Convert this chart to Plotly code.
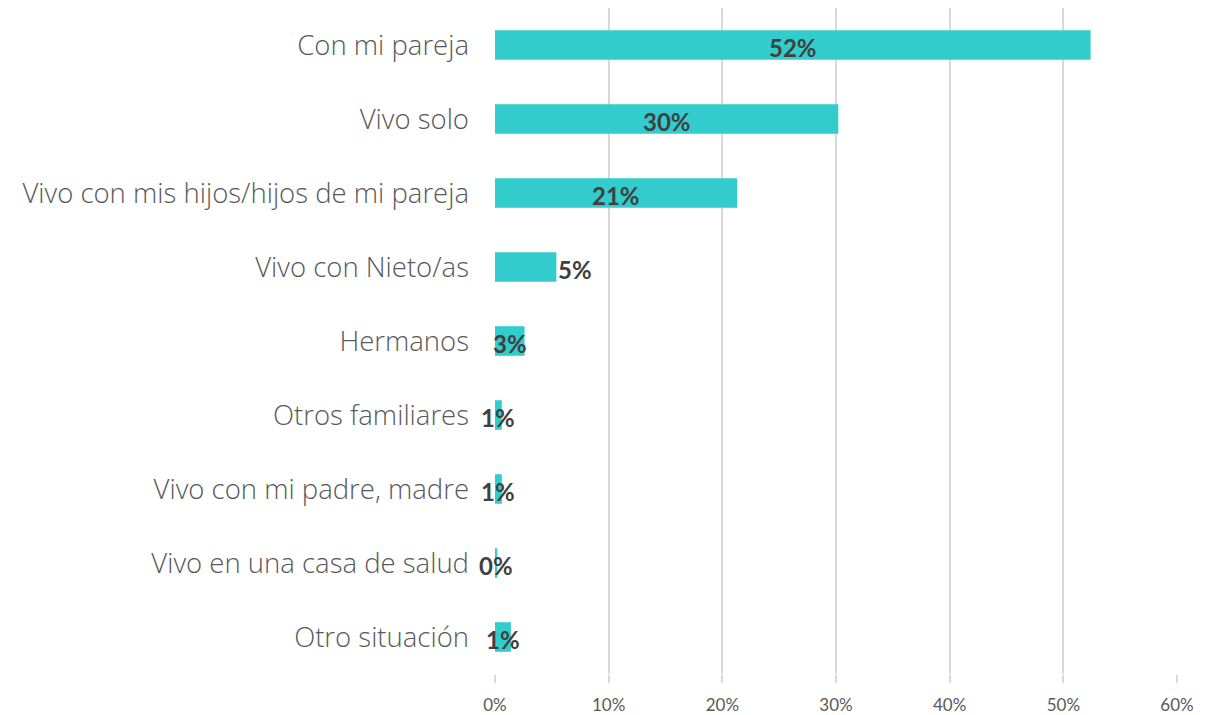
import plotly.graph_objects as go

# Data (percent)
categories = [
    "Con mi pareja",
    "Vivo solo",
    "Vivo con mis hijos/hijos de mi pareja",
    "Vivo con Nieto/as",
    "Hermanos",
    "Otros familiares",
    "Vivo con mi padre, madre",
    "Vivo en una casa de salud",
    "Otro situación",
]
values = [52.4, 30.2, 21.3, 5.4, 2.6, 0.6, 0.6, 0.2, 1.4]
labels = ["52%", "30%", "21%", "5%", "3%", "1%", "1%", "0%", "1%"]
label_outside = [False, False, False, True, False, False, False, False, False]
x_ticks = [0, 10, 20, 30, 40, 50, 60]

bar_color = "#33CCCC"

fig = go.Figure()

fig.add_trace(go.Bar(
    y=categories,
    x=values,
    orientation="h",
    marker=dict(color=bar_color, line=dict(width=0)),
    hoverinfo="skip",
))

# value labels: centred in the bar, or just past the end where flagged
for cat, v, lab, out in zip(categories, values, labels, label_outside):
    fig.add_annotation(
        x=v if out else v / 2,
        y=cat,
        text=lab,
        showarrow=False,
        xanchor="left" if out else "center",
        yanchor="middle",
        yshift=-2,
        font=dict(family="Lato", size=24, color="#404040", weight="bold"),
    )

# page body adds an 8px margin, so the figure is 8px smaller each way
fig.update_layout(
    width=1215,
    height=707,
    margin=dict(l=487, r=46, t=0, b=41),
    paper_bgcolor="white",
    plot_bgcolor="white",
    showlegend=False,
    bargap=0.6,
)

fig.update_xaxes(
    range=[0, 60],
    tickvals=x_ticks,
    ticktext=[f"{t}%" for t in x_ticks],
    showgrid=True,
    gridcolor="#d9d9d9",
    gridwidth=2,
    zeroline=False,
    showline=False,
    ticks="outside",
    ticklen=8,
    tickwidth=2,
    tickcolor="#d9d9d9",
    ticklabelstandoff=8,
    automargin=False,
    tickfont=dict(family="Lato", size=17, color="#595959"),
)

fig.update_yaxes(
    autorange="reversed",
    categoryorder="array",
    categoryarray=categories,
    showgrid=False,
    ticks="",
    ticklabelstandoff=25,
    automargin=False,
    tickfont=dict(family="Open Sans", size=27.5, color="#595959", weight=300),
)

fig.write_html("out.html")
